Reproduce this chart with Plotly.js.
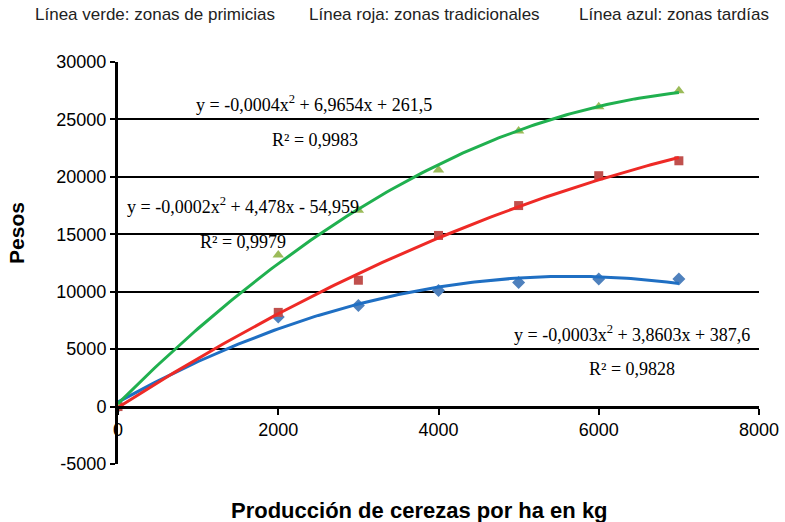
<!DOCTYPE html>
<html>
<head>
<meta charset="utf-8">
<script src="https://cdn.plot.ly/plotly-3.0.1.min.js"></script>
<style>html,body{margin:0;padding:0;background:#fff;}#chart{width:785px;height:522px;}</style>
</head>
<body>
<div id="chart"></div>
<script>
// Data
var produccion = [0, 2000, 3000, 4000, 5000, 6000, 7000];
var pesosVerde = [0, 13200, 17100, 20600, 24000, 26100, 27500];
var pesosRoja  = [0, 8200, 11000, 14900, 17500, 20100, 21400];
var pesosAzul  = [0, 7800, 8800, 10100, 10800, 11100, 11100];

var leyendas = ["Línea verde: zonas de primicias", "Línea roja: zonas tradicionales", "Línea azul: zonas tardías"];
var ecuaciones = ["y = -0,0004x<sup>2</sup> + 6,9654x + 261,5", "y = -0,0002x<sup>2</sup> + 4,478x - 54,959", "y = -0,0003x<sup>2</sup> + 3,8603x + 387,6"];
var r2 = ["R² = 0,9983", "R² = 0,9979", "R² = 0,9828"];
var yTicks = [-5000, 0, 5000, 10000, 15000, 20000, 25000, 30000];
var xTicks = [0, 2000, 4000, 6000, 8000];

// Least-squares quadratic trendline (like the spreadsheet's polynomial trendline)
function quadFit(xs, ys) {
  var n = xs.length, s = [0,0,0,0,0], t = [0,0,0];
  for (var i = 0; i < n; i++) {
    var x = xs[i], y = ys[i];
    for (var k = 0; k < 5; k++) s[k] += Math.pow(x, k);
    for (var k2 = 0; k2 < 3; k2++) t[k2] += y * Math.pow(x, k2);
  }
  var A = [[s[0], s[1], s[2], t[0]], [s[1], s[2], s[3], t[1]], [s[2], s[3], s[4], t[2]]];
  for (var c = 0; c < 3; c++) {
    var p = c;
    for (var r = c + 1; r < 3; r++) if (Math.abs(A[r][c]) > Math.abs(A[p][c])) p = r;
    var tmp = A[c]; A[c] = A[p]; A[p] = tmp;
    for (var r2i = 0; r2i < 3; r2i++) {
      if (r2i === c) continue;
      var f = A[r2i][c] / A[c][c];
      for (var j = c; j < 4; j++) A[r2i][j] -= f * A[c][j];
    }
  }
  return [A[0][3] / A[0][0], A[1][3] / A[1][1], A[2][3] / A[2][2]];
}
function trend(xs, ys) {
  var co = quadFit(xs, ys), tx = [], ty = [];
  var x0 = xs[0], x1 = xs[xs.length - 1];
  for (var i = 0; i <= 140; i++) {
    var x = x0 + (x1 - x0) * i / 140;
    tx.push(x); ty.push(co[0] + co[1] * x + co[2] * x * x);
  }
  return {x: tx, y: ty};
}

var tv = trend(produccion, pesosVerde), tr = trend(produccion, pesosRoja), ta = trend(produccion, pesosAzul);

var traces = [
  {x: produccion, y: pesosAzul, mode: 'markers', type: 'scatter', marker: {symbol: 'diamond', size: 10, color: '#4f81bd'}},
  {x: produccion, y: pesosRoja, mode: 'markers', type: 'scatter', marker: {symbol: 'square', size: 9, color: '#c0504d'}},
  {x: produccion, y: pesosVerde, mode: 'markers', type: 'scatter', marker: {symbol: 'triangle-up', size: 10, color: '#9bbb59'}},
  {x: ta.x, y: ta.y, mode: 'lines', type: 'scatter', line: {color: '#1f6fc3', width: 3}},
  {x: tr.x, y: tr.y, mode: 'lines', type: 'scatter', line: {color: '#ee2a26', width: 3}},
  {x: tv.x, y: tv.y, mode: 'lines', type: 'scatter', line: {color: '#20b04f', width: 3}}
];

var serif = 'Liberation Serif, Times New Roman, serif';
var sans = 'Liberation Sans, Arial, sans-serif';
var eqFont = {family: serif, size: 18, color: '#000'};
var legFont = {family: sans, size: 17, color: '#222'};

var annotations = [
  {xref: 'paper', yref: 'paper', x: -0.1326, y: 1.117, xanchor: 'left', yanchor: 'middle', text: leyendas[0], showarrow: false, font: legFont},
  {xref: 'paper', yref: 'paper', x: 0.2949, y: 1.117, xanchor: 'left', yanchor: 'middle', text: leyendas[1], showarrow: false, font: legFont},
  {xref: 'paper', yref: 'paper', x: 0.716, y: 1.117, xanchor: 'left', yanchor: 'middle', text: leyendas[2], showarrow: false, font: legFont},
  {xref: 'x', yref: 'y', x: 2446, y: 26400, xanchor: 'center', yanchor: 'middle', text: ecuaciones[0], showarrow: false, font: eqFont},
  {xref: 'x', yref: 'y', x: 2459, y: 23200, xanchor: 'center', yanchor: 'middle', text: r2[0], showarrow: false, font: eqFont},
  {xref: 'x', yref: 'y', x: 1566, y: 17500, xanchor: 'center', yanchor: 'middle', text: ecuaciones[1], showarrow: false, font: eqFont},
  {xref: 'x', yref: 'y', x: 1560, y: 14330, xanchor: 'center', yanchor: 'middle', text: r2[1], showarrow: false, font: eqFont},
  {xref: 'x', yref: 'y', x: 6421, y: 6350, xanchor: 'center', yanchor: 'middle', text: ecuaciones[2], showarrow: false, font: eqFont},
  {xref: 'x', yref: 'y', x: 6415, y: 3300, xanchor: 'center', yanchor: 'middle', text: r2[2], showarrow: false, font: eqFont},
  {xref: 'paper', yref: 'paper', x: 0.4703, y: -0.1165, xanchor: 'center', yanchor: 'middle', text: '<b>Producción de cerezas por ha en kg</b>', showarrow: false, font: {family: sans, size: 22, color: '#000'}},
  {xref: 'paper', yref: 'paper', x: -0.1576, y: 0.5747, xanchor: 'center', yanchor: 'middle', text: '<b>Pesos</b>', textangle: -90, showarrow: false, font: {family: sans, size: 21, color: '#000'}}
];

var layout = {
  width: 785, height: 522,
  margin: {l: 118, r: 26, t: 62, b: 58},
  paper_bgcolor: '#fff', plot_bgcolor: '#fff',
  showlegend: false,
  xaxis: {
    range: [0, 8000], tickvals: xTicks, ticktext: xTicks.map(String),
    anchor: 'free', position: 5000 / 35000,
    showline: true, linecolor: '#000', linewidth: 3,
    ticks: 'outside', ticklen: 6, tickwidth: 2, tickcolor: '#000',
    showgrid: false, zeroline: false,
    tickfont: {family: sans, size: 18, color: '#000'}
  },
  yaxis: {
    range: [-5000, 30000], tickvals: yTicks, ticktext: yTicks.map(String),
    showline: true, linecolor: '#000', linewidth: 3,
    ticks: 'outside', ticklen: 5, tickwidth: 2, tickcolor: '#000',
    showgrid: true, gridcolor: '#000', gridwidth: 2, zeroline: false,
    tickfont: {family: sans, size: 18, color: '#000'}
  },
  annotations: annotations
};

Plotly.newPlot('chart', traces, layout, {displayModeBar: false, staticPlot: true});
</script>
</body>
</html>
